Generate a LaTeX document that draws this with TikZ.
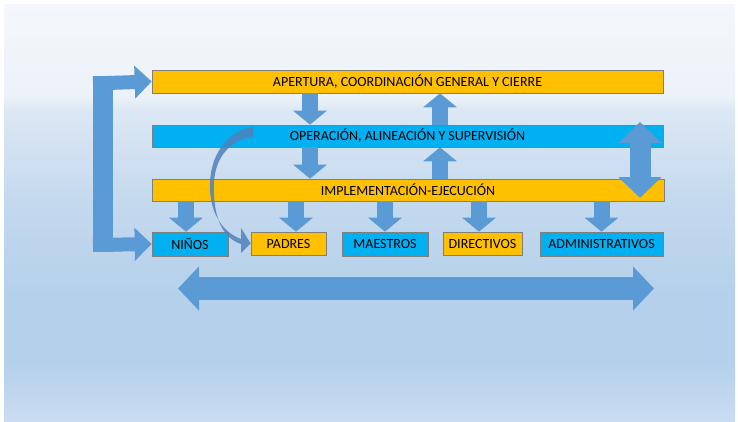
\documentclass[tikz,border=0pt]{standalone}
\usepackage{fontspec}
\setmainfont{Carlito}
\usetikzlibrary{arrows.meta,calc}

\definecolor{naranja}{HTML}{FFC000}
\definecolor{celeste}{HTML}{00B0F0}
\definecolor{flecha}{HTML}{5B9BD5}
\definecolor{curva}{HTML}{4F81BD}
\definecolor{borde}{HTML}{7F7F7F}
\definecolor{fondoA}{HTML}{F4F7FB}
\definecolor{fondoA2}{HTML}{EDF2F9}
\definecolor{fondoB}{HTML}{DCE8F4}
\definecolor{fondoB2}{HTML}{C4D9EE}
\definecolor{fondoC}{HTML}{B4D0EA}
\definecolor{fondoD}{HTML}{CADCF0}

% la sombra ocupa de 25bp (abajo) a 75bp (arriba)
\pgfdeclareverticalshading{diapo}{100bp}{%
  color(0bp)=(fondoD); color(25bp)=(fondoD); color(32.3bp)=(fondoC);
  color(39.5bp)=(fondoC); color(51.5bp)=(fondoB2); color(62.3bp)=(fondoB);
  color(64.1bp)=(fondoA2); color(75bp)=(fondoA); color(100bp)=(fondoA)}

\tikzset{
  barra/.style={draw=borde, line width=0.6pt, inner sep=0pt, font=\fontsize{14}{16}\selectfont},
  naranjabar/.style={barra, fill=naranja},
  celestebar/.style={barra, fill=celeste},
  bloque/.style={draw=flecha, line width=16pt, -{Triangle[width=33pt,length=14pt]}},
}

\begin{document}
\begin{tikzpicture}[x=1pt, y=-1pt]

\useasboundingbox (0,0) rectangle (738,421);
\fill[white] (0,0) rectangle (738,421);
\shade[shading=diapo] (4,4) rectangle (735,421);

% barras
\node[naranjabar, minimum width=511pt, minimum height=23pt] (ap) at (407.5,81.5) {APERTURA, COORDINACIÓN GENERAL Y CIERRE};
\node[celestebar, minimum width=511pt, minimum height=22pt] (op) at (407.5,136) {OPERACIÓN, ALINEACIÓN Y SUPERVISIÓN};
\node[naranjabar, minimum width=512pt, minimum height=22pt] (im) at (408,190) {IMPLEMENTACIÓN-EJECUCIÓN};

% actores
\node[celestebar, minimum width=76pt, minimum height=24pt] (ni) at (190,244) {NIÑOS};
\node[naranjabar, minimum width=75pt, minimum height=23pt] (pa) at (288.5,243.5) {PADRES};
\node[celestebar, minimum width=86pt, minimum height=24pt] (ma) at (385,244) {MAESTROS};
\node[naranjabar, minimum width=79pt, minimum height=23pt] (di) at (482.5,243.5) {DIRECTIVOS};
\node[celestebar, minimum width=123pt, minimum height=24pt] (ad) at (601.5,244) {ADMINISTRATIVOS};

\coordinate (xb) at (310,0);
\coordinate (xs) at (440,0);
\coordinate (xd) at (640,0);

\begin{scope}[bloque]
\draw (ap.south -| xb) -- (op.north -| xb); %ap-op
\draw (op.south -| xb) -- (im.north -| xb); %op-im
\draw (op.north -| xs) -- (ap.south -| xs); %op-ap
\draw (im.north -| xs) -- (op.south -| xs); %im-op
\draw (im.south -| 186,0) -- (ni.north -| 186,0); %im-ni
\draw (im.south -| 296,0) -- (pa.north -| 296,0); %im-pa
\draw (im.south -| ma.north) -- (ma.north); %im-ma
\draw (im.south -| 479,0) -- (di.north -| 479,0); %im-di
\draw (im.south -| ad.north) -- (ad.north); %im-ad
\end{scope}

% doble vertical
\coordinate (vt) at (640,122);
\coordinate (vb) at (640,198);
\draw[draw=flecha, line width=21pt, {Triangle[width=42pt,length=21pt]}-{Triangle[width=42pt,length=21pt]}] (vt) -- (vb);

% corchete izquierdo
\coordinate (lt) at (103,76);
\coordinate (lb) at (103,252);
\fill[flecha] (93,76) rectangle (113,252);
\draw[draw=flecha, line width=14pt, -{Triangle[width=32pt,length=17pt]}] (93,83.5) -- (ap.west); %lt-ap
\draw[draw=flecha, line width=14pt, -{Triangle[width=32pt,length=17pt]}] (93,245) -- (ni.west); %lb-ni

% curva op-pa
\fill[curva, opacity=0.85] (253,127) .. controls (232,129) and (211,150) .. (210,183)
  .. controls (209,212) and (222,232) .. (241,239)
  -- (241,228) -- (pa.west) -- (241,253) -- (241,244)
  .. controls (220,237) and (213,213) .. (214,183)
  .. controls (215,156) and (232,139) .. (253,137) -- cycle;

% doble horizontal
\coordinate (hl) at (178,288.5);
\coordinate (hr) at (654,288.5);
\draw[draw=flecha, line width=23pt, {Triangle[width=43pt,length=21pt]}-{Triangle[width=43pt,length=21pt]}] (hl) -- (hr);

\end{tikzpicture}
\end{document}
